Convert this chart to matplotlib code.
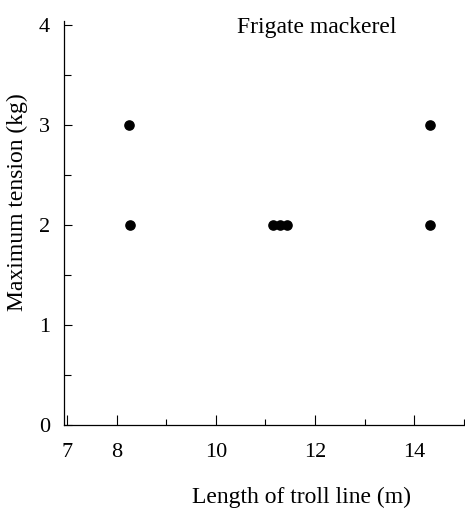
import matplotlib.pyplot as plt
from matplotlib.ticker import MultipleLocator

# Frigate mackerel: troll line length vs maximum tension
length_m = [8.24, 8.26, 11.15, 11.29, 11.44, 14.32, 14.31]
tension_kg = [3, 2, 2, 2, 2, 3, 2]

x_ticks = [7, 8, 10, 12, 14]
y_ticks = [0, 1, 2, 3, 4]

plt.rcParams['font.family'] = ['Liberation Serif', 'DejaVu Serif']

W, H = 465, 508
fig = plt.figure(figsize=(W / 100, H / 100), dpi=100)
ax = fig.add_axes([64 / W, 83 / H, 400 / W, 404 / H])

ax.scatter(length_m, tension_kg, s=44, color='black', zorder=3, clip_on=False)

ax.set_xlim(6.94, 15.0)
ax.set_ylim(0, 4.04)
ax.set_xticks(x_ticks)
ax.set_yticks(y_ticks)
ax.xaxis.set_minor_locator(MultipleLocator(1))
ax.yaxis.set_minor_locator(MultipleLocator(0.5))

for s in ['top', 'right']:
    ax.spines[s].set_visible(False)
for s in ['left', 'bottom']:
    ax.spines[s].set_linewidth(0.9)

ax.tick_params(which='both', direction='in', width=0.8, labelsize=16)
ax.tick_params(axis='x', which='major', length=7, pad=13)
ax.tick_params(axis='x', which='minor', length=4)
ax.tick_params(axis='y', which='major', length=6, pad=10)
ax.tick_params(axis='y', which='minor', length=5)

# axis titles placed in figure pixels
fig.text(302 / W, 1 - 497 / H, 'Length of troll line (m)', fontsize=17,
         ha='center', va='center')
fig.text(17 / W, 1 - 202 / H, 'Maximum tension (kg)', fontsize=17,
         ha='center', va='center', rotation=90)

ax.text(0.633, 0.985, 'Frigate mackerel', transform=ax.transAxes,
        ha='center', va='center', fontsize=17)

fig.savefig('out.png', dpi=100)
